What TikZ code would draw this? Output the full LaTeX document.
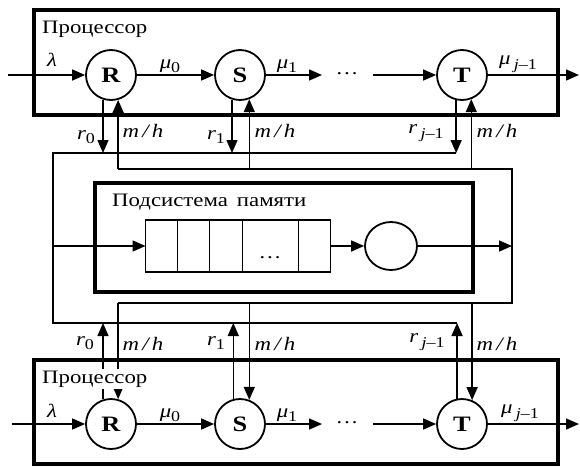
\documentclass[tikz,border=0pt]{standalone}
\usepackage{fontspec}
\setmainfont[FakeStretch=1.2]{Liberation Serif}
\usetikzlibrary{arrows.meta,shapes.geometric}
\newcommand\lsub[1]{\raisebox{-4.5pt}{\fontsize{15}{15}\selectfont #1}}
\begin{document}
\begin{tikzpicture}[x=1pt,y=-1pt,
  thinln/.style={line width=1.5pt},
  arr/.style={line width=1.5pt,-{Triangle[length=13pt,width=11pt]}},
  bigbox/.style={draw,line width=3.2pt,inner sep=0pt,outer sep=0pt},
  srv/.style={circle,draw,line width=1.8pt,minimum size=50pt,inner sep=0pt,font=\fontsize{22}{22}\selectfont\bfseries},
  lbl/.style={font=\fontsize{19}{19}\selectfont,inner sep=0pt},
]
\useasboundingbox (0,0) rectangle (580,466);

% boxes
\node[bigbox,minimum width=524pt,minimum height=105pt] (PA) at (296,62.5) {};
\node[bigbox,minimum width=524pt,minimum height=104pt] (PB) at (296,412) {};
\node[bigbox,minimum width=378pt,minimum height=109pt] (MB) at (284,237.5) {};
\node[lbl,anchor=base west] (PAl) at (42,33) {Процессор};
\node[lbl,anchor=base west] (MBl) at (112,206) {Подсистема\hspace{9pt}памяти};

% servers
\node[srv] (R1) at (111,75) {R};
\node[srv] (S1) at (240,75) {S};
\node[srv] (T1) at (462,75) {T};
\node[srv] (R2) at (111,424) {R};
\node[srv] (S2) at (240,424) {S};
\node[srv] (T2) at (462,424) {T};

% memory subsystem
\node[draw,line width=1.6pt,minimum width=185pt,minimum height=52pt,inner sep=0pt,outer sep=0pt] (q) at (238,246) {};
\foreach \d in {32,64,97,153}
  \draw[line width=1.6pt] ([xshift=\d pt]q.north west) -- ([xshift=\d pt]q.south west);
\node[lbl] (qd) at (270,258) {…};
\node[ellipse,draw,line width=1.8pt,minimum width=52pt,minimum height=48pt,inner sep=0pt] (ms) at (391,246) {};

% coordinates
\coordinate (inA) at (8,75);
\coordinate (dA1) at (322,75);
\coordinate (dA2) at (373,75);
\coordinate (outA) at (579,75);
\coordinate (inB) at (12,424);
\coordinate (dB1) at (322,424);
\coordinate (dB2) at (373,424);
\coordinate (outB) at (579,424);
\coordinate (rbusA) at (53,153);
\coordinate (rbusB) at (53,323);
\coordinate (mbusA) at (512,169);
\coordinate (mbusB) at (512,303);
\coordinate (qin) at (53,246);
\coordinate (mout) at (512,246);

% chains
\draw[arr] (inA) -- (R1);
\draw[arr] (R1) -- (S1);
\draw[arr] (S1) -- (dA1);
\node[lbl] (dotsA) at (347,74) {…};
\draw[arr] (dA2) -- (T1);
\draw[arr] (T1) -- (outA);
\draw[arr] (inB) -- (R2);
\draw[arr] (R2) -- (S2);
\draw[arr] (S2) -- (dB1);
\node[lbl] (dotsB) at (347,423) {…};
\draw[arr] (dB2) -- (T2);
\draw[arr] (T2) -- (outB);

% buses
\draw[thinln] (T1.-103.4 |- rbusA) -- (rbusA) -- (rbusB) -- (T2.101.1 |- rbusB);
\draw[thinln] (R1.-74.3 |- mbusA) -- (mbusA) -- (mbusB) -- (R2.74.3 |- mbusB);
\draw[arr] (qin) -- (q.west);
\draw[arr] (q.east) -- (ms.west);
\draw[arr] (ms.east) -- (mout);

% top verticals
\draw[arr] (R1.-108) -- (R1.-108 |- rbusA);
\draw[arr] (R1.-74.3 |- mbusA) -- (R1.-74.3);
\draw[arr] (S1.-108) -- (S1.-108 |- rbusA);
\draw[arr] (S1.-69.7 |- mbusA) -- (S1.-69.7);
\draw[arr] (T1.-103.4) -- (T1.-103.4 |- rbusA);
\draw[arr] (T1.-69.7 |- mbusA) -- (T1.-69.7);

% bottom verticals
\draw[arr] (R2.108) -- (R2.108 |- rbusB);
\draw[arr] (R2.74.3 |- mbusB) -- (R2.74.3);
\draw[arr] (S2.105.7) -- (S2.105.7 |- rbusB);
\draw[arr] (S2.69.7 |- mbusB) -- (S2.69.7);
\draw[arr] (T2.101.1) -- (T2.101.1 |- rbusB);
\draw[arr] (T2.67.3 |- mbusB) -- (T2.67.3);

\node[lbl,anchor=base west,fill=white,inner sep=2pt] (PBl) at (40,383) {Процессор};

% labels
\node[lbl] (la1) at (52,60) {\textit{λ}};
\node[lbl] (mu0a) at (170,66) {\textit{μ}\lsub{0}};
\node[lbl] (mu1a) at (287,66) {\textit{μ}\lsub{1}};
\node[lbl] (muja) at (518,64) {\textit{μ}\,\lsub{\textit{j}–1}};
\node[lbl] (r0a) at (86,137) {\textit{r}\lsub{0}};
\node[lbl] (mha1) at (143,131) {\textit{m\,/\,h}};
\node[lbl] (r1a) at (216,137) {\textit{r}\lsub{1}};
\node[lbl] (mha2) at (275,131) {\textit{m\,/\,h}};
\node[lbl] (rja) at (426,133) {\textit{r}\,\lsub{\textit{j}–1}};
\node[lbl] (mha3) at (497,131) {\textit{m\,/\,h}};

\node[lbl] (la2) at (52,411) {\textit{λ}};
\node[lbl] (mu0b) at (170,415) {\textit{μ}\lsub{0}};
\node[lbl] (mu1b) at (287,415) {\textit{μ}\lsub{1}};
\node[lbl] (mujb) at (520,413) {\textit{μ}\,\lsub{\textit{j}–1}};
\node[lbl] (r0b) at (85,343) {\textit{r}\lsub{0}};
\node[lbl] (mhb1) at (143,344) {\textit{m\,/\,h}};
\node[lbl] (r1b) at (216,343) {\textit{r}\lsub{1}};
\node[lbl] (mhb2) at (275,344) {\textit{m\,/\,h}};
\node[lbl] (rjb) at (427,342) {\textit{r}\,\lsub{\textit{j}–1}};
\node[lbl] (mhb3) at (497,344) {\textit{m\,/\,h}};
\end{tikzpicture}
\end{document}
